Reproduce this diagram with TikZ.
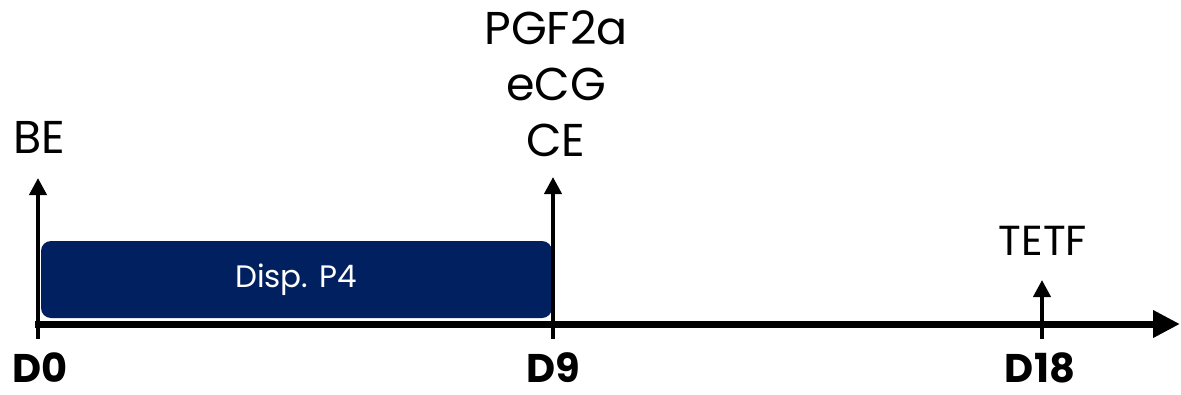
\documentclass[tikz,border=0pt]{standalone}
\usepackage{fontspec}
\setmainfont{Poppins}
\usetikzlibrary{arrows.meta}

\begin{document}
\begin{tikzpicture}[x=1pt,y=-1pt]

\tikzset{event/.style = {-{Triangle[length=17pt,width=17pt]},line width=4pt}}
\tikzset{axisline/.style = {-{Triangle[length=27pt,width=26pt]},line width=7pt}}
\tikzset{daylabel/.style = {font=\fontsize{40}{46}\selectfont\bfseries,inner sep=0pt,text depth=0pt}}
\tikzset{evlabel/.style = {font=\fontsize{46}{56}\selectfont,inner sep=0pt,align=center}}
\definecolor{navy}{HTML}{002060}

\useasboundingbox (0,0) rectangle (1181,394);

% axis points
\coordinate (t0) at (38,324);
\coordinate (t9) at (553,324);
\coordinate (t18) at (1042,324);
\coordinate (start) at (35,324);
\coordinate (end) at (1180,324);

% tips
\coordinate (e0) at (38,178);
\coordinate (e9) at (553,177);
\coordinate (e18) at (1042,280);

% bottoms
\coordinate (b0) at (38,339);
\coordinate (b9) at (553,339);
\coordinate (b18) at (1042,339);

% box
\draw[fill=navy,draw=none,rounded corners=10pt] (41,241) rectangle (552,318);
\node[text=white,font=\fontsize{31}{36}\selectfont,inner sep=0pt] (disp) at (296,280) {Disp. P4};

% axis
\draw[axisline] (start) to (end);

% arrows
\draw[event] (b0) to (e0);
\draw[event] (b9) to (e9);
\draw[event] (b18) to (e18);

% labels
\node[daylabel,anchor=base] (d0) at (40,382) {D0};
\node[daylabel,anchor=base] (d9) at (553,382) {D9};
\node[daylabel,anchor=base] (d18) at (1040,382) {D18};
\node[evlabel,anchor=base] (be) at (39,153) {BE};
\node[evlabel,anchor=south] (pce) at (556,157) {PGF2a\\eCG\\CE};
\node[evlabel,font=\fontsize{42}{50}\selectfont,anchor=base] (tetf) at (1043,255) {TETF};

\end{tikzpicture}
\end{document}
